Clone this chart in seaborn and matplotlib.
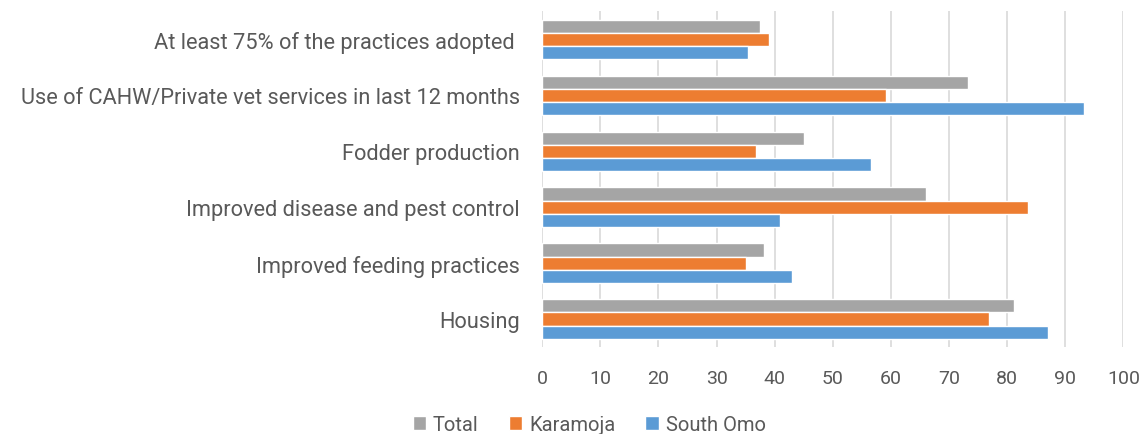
import pandas as pd
import seaborn as sns
import matplotlib.pyplot as plt

# practices (top to bottom as shown)
practices = [
    'At least 75% of the practices adopted ',
    'Use of CAHW/Private vet services in last 12 months',
    'Fodder production',
    'Improved disease and pest control',
    'Improved feeding practices',
    'Housing',
]
groups = ['Total', 'Karamoja', 'South Omo']
total = [37.4, 73.2, 45.0, 66.1, 38.2, 81.1]
karamoja = [39.1, 59.1, 36.8, 83.5, 35.0, 76.9]
south_omo = [35.4, 93.3, 56.5, 40.9, 42.9, 87.1]
colors = ['#A5A5A5', '#ED7D31', '#5B9BD5']

df = pd.DataFrame({
    'practice': practices * 3,
    'group': [g for g in groups for _ in practices],
    'value': total + karamoja + south_omo,
})

sns.set_style('white')
plt.rcParams['font.family'] = ['Roboto', 'DejaVu Sans']
text_col = '#595959'

fig, ax = plt.subplots(figsize=(11.44, 4.35), dpi=100)
fig.subplots_adjust(left=0.474, right=0.982, top=0.972, bottom=0.2)

sns.barplot(data=df, x='value', y='practice', hue='group', order=practices,
            hue_order=groups, palette=colors, width=0.7, ax=ax,
            saturation=1, legend=True)

ax.set_xlim(0, 100)
ax.set_xticks(range(0, 101, 10))
ax.grid(axis='x', color='#D9D9D9', linewidth=1.2)
ax.set_axisbelow(True)
for s in ax.spines.values():
    s.set_visible(False)
ax.set_xlabel('')
ax.set_ylabel('')
ax.tick_params(axis='x', labelsize=14, colors=text_col, pad=16, length=0)
ax.tick_params(axis='y', labelsize=15.7, colors=text_col, pad=16, length=0)

handles, labels = ax.get_legend_handles_labels()
ax.get_legend().remove()
fig.legend(handles, labels, loc='lower center', bbox_to_anchor=(0.515, -0.042),
           ncol=3, frameon=False, fontsize=14.5, labelcolor=text_col,
           handlelength=0.65, handleheight=0.65, handletextpad=0.35,
           columnspacing=1.5)

fig.savefig('out.png', dpi=100)
